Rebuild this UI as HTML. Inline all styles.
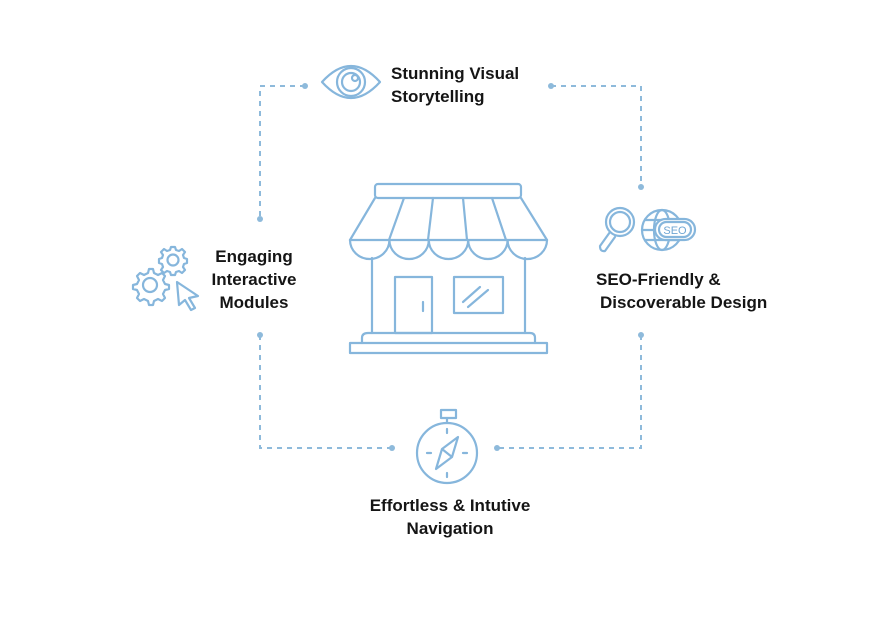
<!DOCTYPE html>
<html><head><meta charset="utf-8"><style>
html,body{margin:0;padding:0;background:#fff;}
svg{display:block}
text{font-family:"Liberation Sans",sans-serif;font-weight:bold;font-size:17px;fill:#151515}
</style></head><body>
<svg width="894" height="626" viewBox="0 0 894 626">
<rect width="894" height="626" fill="#fff"/>
<g fill="none" stroke="#8ebadb" stroke-width="2" stroke-dasharray="5,5">
<path d="M305 86 H260 V219"/>
<path d="M551 86 H641 V187"/>
<path d="M260 335 V448 H392"/>
<path d="M641 335 V448 H497"/>
</g>
<g fill="#8ebadb">
<circle cx="305" cy="86" r="3"/><circle cx="260" cy="219" r="3"/>
<circle cx="551" cy="86" r="3"/><circle cx="641" cy="187" r="3"/>
<circle cx="260" cy="335" r="3"/><circle cx="392" cy="448" r="3"/>
<circle cx="641" cy="335" r="3"/><circle cx="497" cy="448" r="3"/>
</g>
<g fill="none" stroke="#86b6dc" stroke-width="2.2" stroke-linejoin="round" stroke-linecap="round">
<!-- eye -->
<path d="M322 82 Q351 50 380 82 Q351 114 322 82 Z"/>
<circle cx="351" cy="82" r="14"/><circle cx="351" cy="82" r="9"/><circle cx="355" cy="78" r="3"/>
<!-- store -->
<rect x="375" y="184" width="146" height="14" rx="3"/>
<path d="M375 198 L350 240 M521 198 L547 240 M404 198 L389 240 M433 198 L428 240 M463 198 L467 240 M492 198 L506 240"/>
<path d="M350 240 H547"/>
<path d="M350 240 A19.7 19 0 0 0 389.4 240 A19.7 19 0 0 0 428.8 240 A19.7 19 0 0 0 468.2 240 A19.7 19 0 0 0 507.6 240 A19.7 19 0 0 0 547 240"/>
<path d="M372 258 V333 M525 258 V333"/>
<rect x="395" y="277" width="37" height="56"/>
<path d="M423 302 V311"/>
<rect x="454" y="277" width="49" height="36"/>
<path d="M463 302 L480 287 M468 307 L488 290"/>
<path d="M362 343 V338 Q362 333 368 333 H530 Q535 333 535 338 V343"/>
<rect x="350" y="343" width="197" height="10"/>
<!-- gears -->
<circle cx="150" cy="285" r="7"/>
<path d="M150 269 l3 0 1 4 4 2 4-2 3 3-2 4 2 4 4 1 0 4-4 1-2 4 2 4-3 3-4-2-4 2-1 4h-4l-1-4-4-2-4 2-3-3 2-4-2-4-4-1v-4l4-1 2-4-2-4 3-3 4 2 4-2 1-4z"/>
<circle cx="173" cy="260" r="5.5"/>
<path d="M171 247h4l1 3 3 1 3-2 3 3-2 3 1 3 3 1v4l-3 1-1 3 2 3-3 3-3-2-3 1-1 3h-4l-1-3-3-1-3 2-3-3 2-3-1-3-3-1v-4l3-1 1-3-2-3 3-3 3 2 3-1z"/>
<path d="M177 282 L198 296 L189 298 L195 308 L191 310 L185 300 L179 305 Z"/>
<!-- seo globe -->
<circle cx="662" cy="230" r="20"/>
<ellipse cx="662" cy="230" rx="8" ry="20"/>
<path d="M642 230 H682 M645 220 H679 M645 240 H679"/>
<rect x="655" y="219" width="40" height="21" rx="10.5" fill="#fff"/>
<rect x="659" y="222" width="32" height="15" rx="7.5"/>
<!-- magnifier -->
<circle cx="620" cy="222" r="14" fill="#fff"/><circle cx="620" cy="222" r="10"/>
<path d="M610 232 L600 246 Q600 252 605 251 L615 237"/>
<!-- compass -->
<circle cx="447" cy="453" r="30"/>
<rect x="441" y="410" width="15" height="8"/>
<path d="M447 418 V423 M447 429 V433 M447 473 V477 M427 453 H431 M463 453 H467"/>
<path d="M458 437 L452 457 L436 469 L442 449 Z M442 449 L452 457"/>
</g>
<text x="675" y="234" text-anchor="middle" style="font-size:11px;font-weight:normal;fill:#6fa6d3">SEO</text>
<text x="391" y="79">Stunning Visual</text>
<text x="391" y="102">Storytelling</text>
<text x="254" y="262" text-anchor="middle">Engaging</text>
<text x="254" y="285" text-anchor="middle">Interactive</text>
<text x="254" y="308" text-anchor="middle">Modules</text>
<text x="596" y="285">SEO-Friendly &amp;</text>
<text x="600" y="308">Discoverable Design</text>
<text x="450" y="511" text-anchor="middle">Effortless &amp; Intutive</text>
<text x="450" y="534" text-anchor="middle">Navigation</text>
</svg>
</body></html>
